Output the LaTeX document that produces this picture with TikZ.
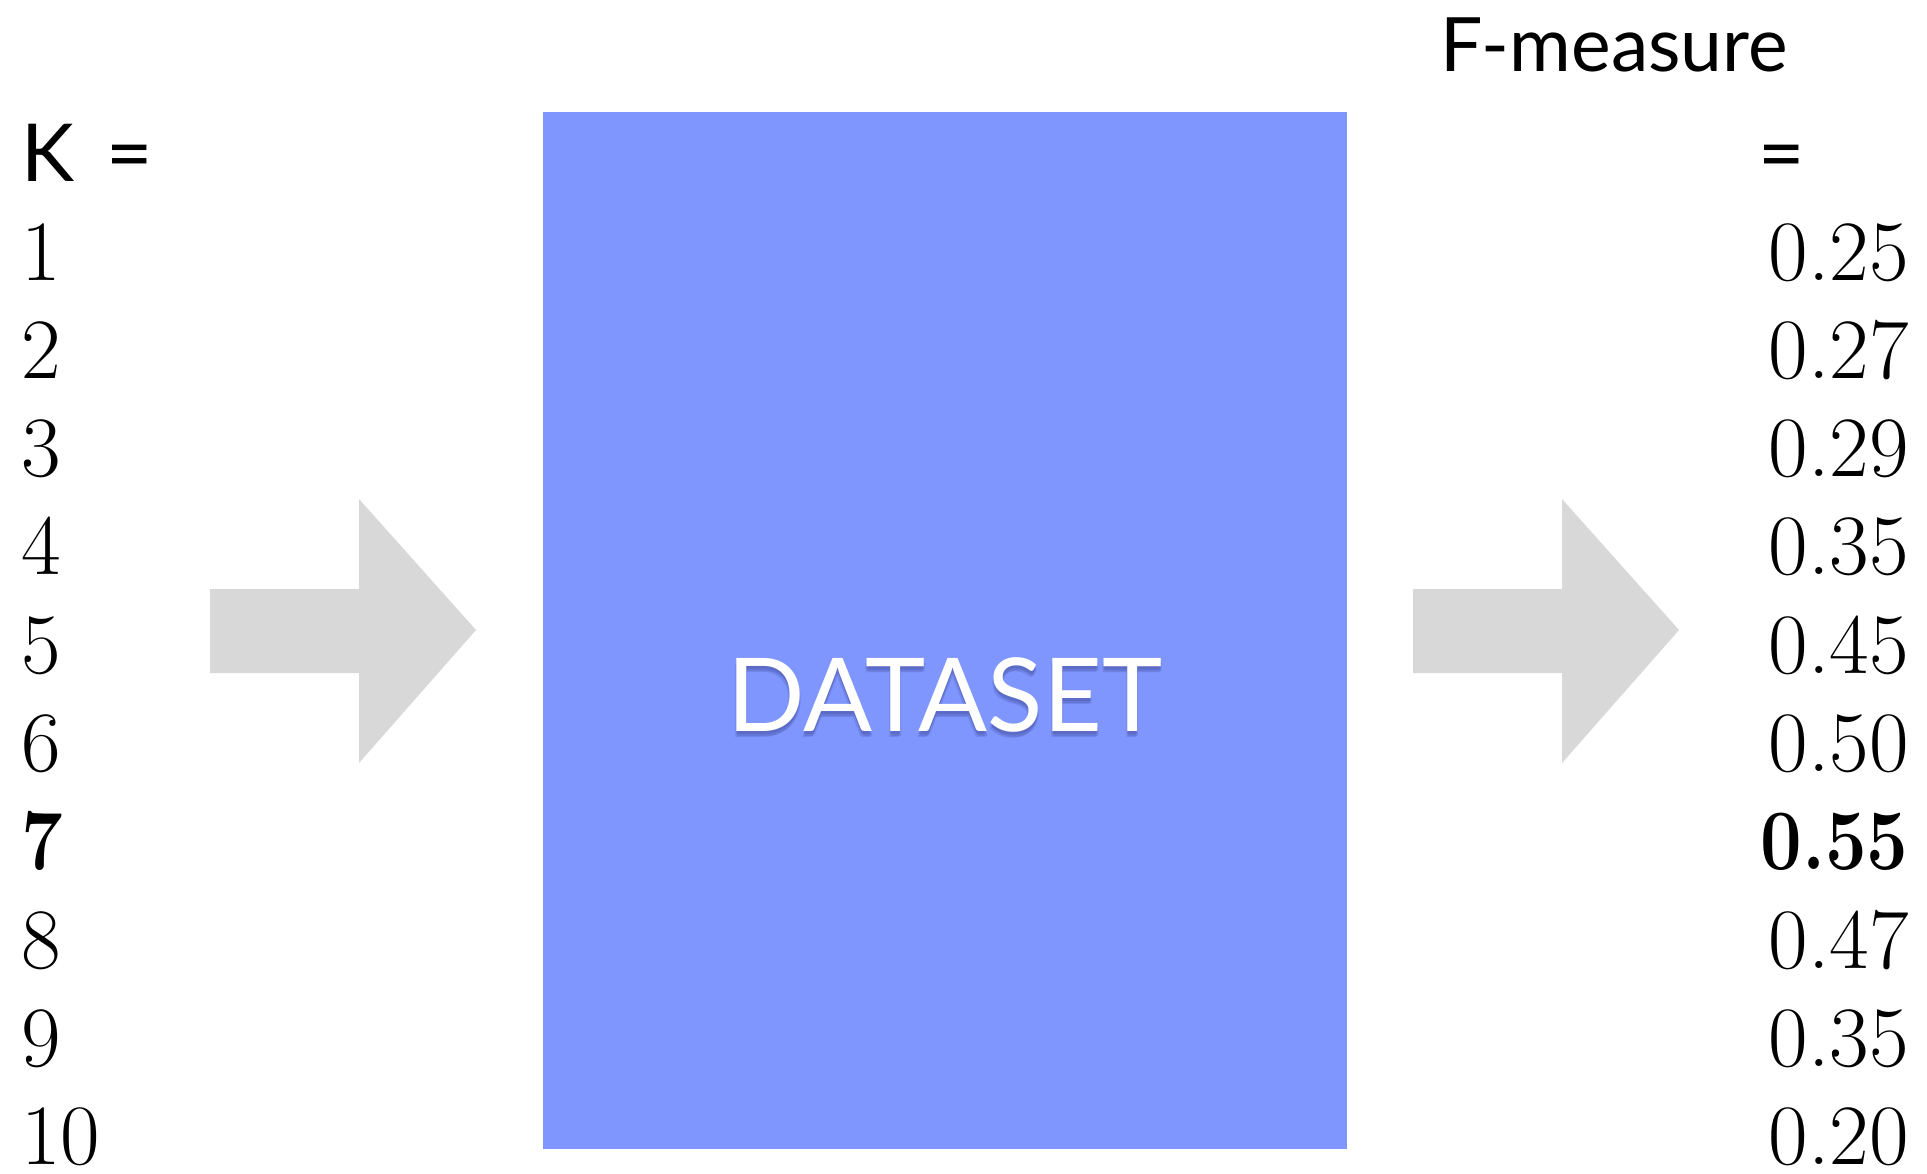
\documentclass[tikz,border=0pt]{standalone}
\usepackage{fontspec}
\setsansfont{Lato}
\usepackage{tikz}

\begin{document}
\begin{tikzpicture}[x=0.5pt,y=0.5pt,yscale=-1,xscale=1,
  kval/.style={anchor=base west,inner sep=0pt,font=\fontsize{43}{43}\selectfont},
  fval/.style={anchor=base east,inner sep=0pt,font=\fontsize{43}{43}\selectfont},
  headtext/.style={anchor=base west,inner sep=0pt,font=\sffamily\fontsize{40}{40}\selectfont},
  shadowtext/.style={anchor=base,inner sep=0pt,font=\sffamily\fontsize{51}{51}\selectfont,color={rgb, 255:red, 40; green, 50; blue, 120},opacity=0.16},
  grayarrow/.style={fill={rgb, 255:red, 216; green, 216; blue, 216}}]
\useasboundingbox (0,0) rectangle (1927,1173);

%Shape: Rectangle
\node (box) [fill={rgb, 255:red, 128; green, 150; blue, 255}, inner sep=0pt, minimum width=402pt, minimum height=518.5pt] at (945,630.5) {};
%Shape: Right Arrow
\fill [grayarrow] (210,589) -- (359,589) -- (359,499) -- (476,630) -- (359,763) -- (359,673) -- (210,673) -- cycle ;
%Shape: Right Arrow
\fill [grayarrow] (1413,589) -- (1562,589) -- (1562,499) -- (1679,630) -- (1562,763) -- (1562,673) -- (1413,673) -- cycle ;

% Text Node
\node (shadowa) [shadowtext] at (945,734) {DATASET};
\node (shadowb) [shadowtext] at (946,736) {DATASET};
\node (shadowc) [shadowtext] at (944,737) {DATASET};
\node (label) [anchor=base, inner sep=0pt, font=\sffamily\fontsize{51}{51}\selectfont, color=white] at (945,731) {DATASET};

% Text Node
\node (khead) [headtext] at (21,181) {K};
\node (keq) [headtext] at (106,181) {=};
% Text Node
\node (fhead) [headtext, font=\sffamily\fontsize{37.5}{37.5}\selectfont] at (1440,71) {F-measure};
\node (feq) [headtext] at (1758,181) {=};

% Text Node
\node (k1) [kval] at (21,280) {1};
\node (k2) [kval] at (21,378.3) {2};
\node (k3) [kval] at (21,476.6) {3};
\node (k4) [kval] at (21,574.9) {4};
\node (k5) [kval] at (21,673.2) {5};
\node (k6) [kval] at (21,771.5) {6};
\node (k7) [kval] at (21,869.8) {\scalebox{0.86}[1]{\bfseries 7}};
\node (k8) [kval] at (21,968.1) {8};
\node (k9) [kval] at (21,1066.4) {9};
\node (k10) [kval] at (21,1164.7) {10};

% Text Node
\node (f1) [fval] at (1909,280) {0.25};
\node (f2) [fval] at (1909,378.3) {0.27};
\node (f3) [fval] at (1909,476.6) {0.29};
\node (f4) [fval] at (1909,574.9) {0.35};
\node (f5) [fval] at (1909,673.2) {0.45};
\node (f6) [fval] at (1909,771.5) {0.50};
\node (f7) [fval] at (1909,869.8) {\scalebox{0.86}[1]{\bfseries 0.55}};
\node (f8) [fval] at (1909,968.1) {0.47};
\node (f9) [fval] at (1909,1066.4) {0.35};
\node (f10) [fval] at (1909,1164.7) {0.20};

\end{tikzpicture}
\end{document}
